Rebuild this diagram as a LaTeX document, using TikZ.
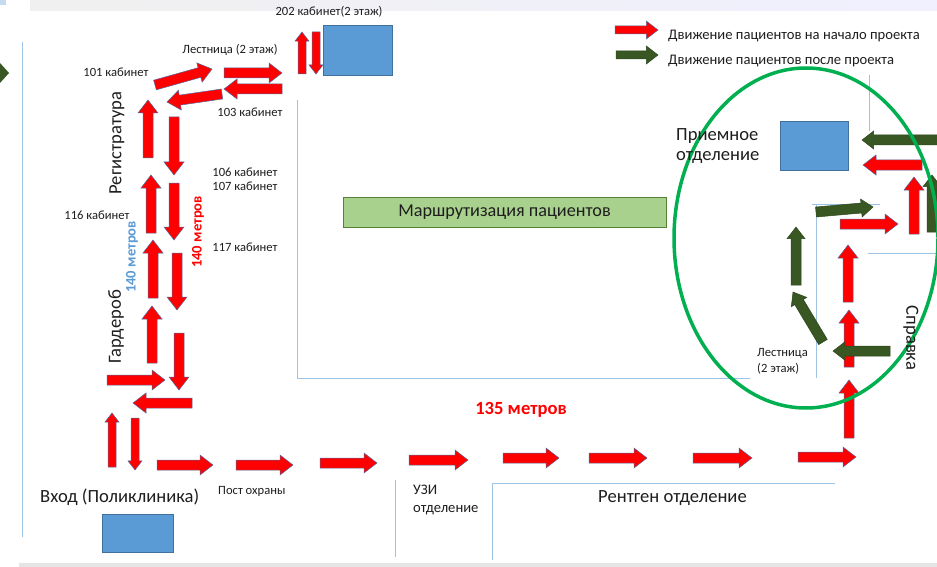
\documentclass[tikz,border=0pt]{standalone}
\usepackage{fontspec}
\setmainfont{Carlito}
\definecolor{arred}{RGB}{255,0,0}
\definecolor{argreen}{RGB}{56,87,35}
\definecolor{edgeblue}{RGB}{80,105,160}
\definecolor{boxblue}{RGB}{91,155,213}
\definecolor{boxedge}{RGB}{65,113,156}
\definecolor{linblue}{RGB}{157,195,230}
\definecolor{lblgreen}{RGB}{169,209,142}
\definecolor{lbledge}{RGB}{84,130,53}
\definecolor{ringgreen}{RGB}{0,176,80}
\definecolor{txt}{RGB}{30,30,30}
\newcommand\blk[7]{%
  \pgfmathsetmacro\bkA{atan2(-(#4)+(#2),(#3)-(#1))}%
  \pgfmathsetmacro\bkL{veclen((#3)-(#1),(#4)-(#2))}%
  \pgfmathsetmacro\bkH{min(1.3*#6,\bkL*0.45)}%
  \begin{scope}[shift={(#1,#2)},rotate=\bkA]
    \filldraw[#7] (0,#5) -- (\bkL-\bkH,#5) -- (\bkL-\bkH,#6) -- (\bkL,0)
      -- (\bkL-\bkH,-#6) -- (\bkL-\bkH,-#5) -- (0,-#5) -- cycle;
  \end{scope}}
\tikzset{
  redar/.style={fill=arred,draw=edgeblue,line width=0.5pt},
  grnar/.style={fill=argreen,draw=argreen!80!black,line width=0.5pt},
  thinline/.style={draw=linblue,line width=0.9pt},
  bluebox/.style={fill=boxblue,draw=boxedge,line width=0.6pt},
  small/.style={text=txt,font=\fontsize{12.6}{14}\selectfont,inner sep=0pt},
  mid/.style={text=txt,font=\fontsize{14.6}{17}\selectfont,inner sep=0pt},
  big/.style={text=txt,font=\fontsize{18.6}{21}\selectfont,inner sep=0pt},
}
\begin{document}
\begin{tikzpicture}[x=1pt,y=-1pt]
\useasboundingbox (0,0) rectangle (937,567);
\clip (0,0) rectangle (937,567);
\fill[white] (0,0) rectangle (937,567);
% top and bottom bands
\fill[left color=gray!12,right color=blue!6] (30,0) rectangle (937,11);
\fill[linblue!60] (0,0) rectangle (6,5);
\fill[gray!20] (19,563) rectangle (937,567);
% green partial chevron at left edge
\fill[argreen] (0,63) -- (9,73) -- (0,83) -- cycle;

% thin blue lines
\draw[thinline] (22,42) -- (22,537);
\draw[thinline] (297,100) -- (297,378) -- (750,378);
\draw[thinline] (816,378) -- (816,204);
\draw[thinline] (812,204) -- (880,204);
\draw[thinline] (869,75) -- (869,131);
\draw[thinline] (868,253) -- (937,253);
\draw[thinline] (395,480) -- (395,557);
\draw[thinline] (492,560) -- (492,483) -- (835,483);

% boxes
\node[bluebox,minimum width=69pt,minimum height=50pt,inner sep=0pt] (k202) at (357.5,50) {};
\node[bluebox,minimum width=68pt,minimum height=49pt,inner sep=0pt] (priem) at (814,145.5) {};
\node[bluebox,minimum width=71pt,minimum height=38pt,inner sep=0pt] (vhod) at (137.5,533) {};
\node[fill=lblgreen,draw=lbledge,line width=0.6pt,minimum width=323pt,minimum height=30pt,
  inner sep=0pt,text=txt,font=\fontsize{18.2}{21}\selectfont] (marsh) at (504.5,212) {Маршрутизация пациентов};

% red arrows, left column and stairs
\blk{155}{85}{212}{69}{5}{10}{redar}
\blk{224}{73}{282}{73}{5}{10}{redar}
\blk{282}{89}{224}{89}{5}{10}{redar}
\blk{222}{94}{167}{102}{5}{10}{redar}
\blk{148}{158}{148}{100}{5}{10}{redar}
\blk{174}{117}{174}{175}{5}{10}{redar}
\blk{151}{233}{151}{175}{5}{10}{redar}
\blk{174}{183}{174}{240}{5}{10}{redar}
\blk{153}{298}{153}{240}{5}{10}{redar}
\blk{177}{253}{177}{310}{5}{10}{redar}
\blk{152}{363}{152}{306}{5}{10}{redar}
\blk{179}{333}{179}{390}{5}{10}{redar}
\blk{107}{380}{165}{380}{5}{10}{redar}
\blk{192}{403}{133}{403}{5}{10}{redar}
\blk{112}{467}{112}{413}{4}{7}{redar}
\blk{135}{418}{135}{470}{4}{7}{redar}
\blk{302}{74}{302}{32}{4}{7}{redar}
\blk{316}{32}{316}{74}{4}{7}{redar}
% bottom row
\blk{157}{465}{213}{465}{5}{10}{redar}
\blk{236}{465}{293}{465}{5}{10}{redar}
\blk{320}{463}{377}{463}{5}{10}{redar}
\blk{409}{460}{468}{460}{5}{10}{redar}
\blk{503}{458}{559}{458}{5}{10}{redar}
\blk{589}{458}{647}{458}{5}{10}{redar}
\blk{693}{458}{752}{458}{5}{10}{redar}
\blk{798}{457}{856}{457}{5}{10}{redar}
% right column red
\blk{849}{438}{849}{380}{5}{10}{redar}
\blk{849}{367}{849}{310}{5}{10}{redar}
\blk{848}{302}{848}{245}{5}{10}{redar}
\blk{840}{224}{898}{224}{5}{10}{redar}
\blk{914}{234}{914}{177}{5}{10}{redar}
\blk{922}{165}{863}{165}{5}{10}{redar}
% green arrows
\blk{945}{140}{862}{140}{5}{9}{grnar}
\blk{932}{232}{932}{175}{5}{9}{grnar}
\blk{816}{212}{873}{207}{5}{9}{grnar}
\blk{796}{285}{796}{227}{5}{9}{grnar}
\blk{823}{342}{793}{292}{5}{9}{grnar}
\blk{890}{351}{833}{351}{5}{9}{grnar}
% legend
\blk{615}{30}{658}{30}{4}{9}{redar}
\blk{616}{55}{658}{55}{4}{9}{grnar}
\node[mid,anchor=west] (lg1) at (668,36) {Движение пациентов на начало проекта};
\node[mid,anchor=west] (lg2) at (668,61) {Движение пациентов после проекта};

% green ring
\draw[ringgreen,line width=3.5pt] (806,238) ellipse [x radius=132, y radius=170];

% labels
\node[small] (t202) at (329,12) {202 кабинет(2 этаж)};
\node[small] (tles) at (230,50) {Лестница (2 этаж)};
\node[small] (t101) at (116,72) {101 кабинет};
\node[small] (t103) at (250,112) {103 кабинет};
\node[small] (t106) at (245,172) {106 кабинет};
\node[small] (t107) at (245,186) {107 кабинет};
\node[small] (t116) at (97,215) {116 кабинет};
\node[small] (t117) at (245,247) {117 кабинет};
\node[big,rotate=90] (treg) at (117,143) {Регистратура};
\node[big,rotate=90] (tgard) at (116,327) {Гардероб};
\node[text=boxblue,font=\fontsize{14.6}{17}\selectfont\bfseries,inner sep=0pt,rotate=90] (m140b) at (132,257) {140 метров};
\node[text=arred,font=\fontsize{14.6}{17}\selectfont\bfseries,inner sep=0pt,rotate=90] (m140r) at (198,232) {140 метров};
\node[big,anchor=west] (tvhod) at (40,497) {Вход (Поликлиника)};
\node[small,anchor=west] (tpost) at (218,491) {Пост охраны};
\node[mid,anchor=west] (tuzi) at (413,490) {УЗИ};
\node[mid,anchor=west] (tuzi2) at (413,510) {отделение};
\node[big,anchor=west] (trent) at (598,498) {Рентген отделение};
\node[text=arred,font=\fontsize{18.6}{21}\selectfont\bfseries,inner sep=0pt] (m135) at (521,410) {135 метров};
\node[big,anchor=west] (tpr1) at (676,136) {Приемное};
\node[big,anchor=west] (tpr2) at (676,158) {отделение};
\node[big,rotate=-90] (tspr) at (911,338) {Справка};
\node[small,anchor=west] (tl1) at (757,353) {Лестница};
\node[small,anchor=west] (tl2) at (757,369) {(2 этаж)};
\end{tikzpicture}
\end{document}
